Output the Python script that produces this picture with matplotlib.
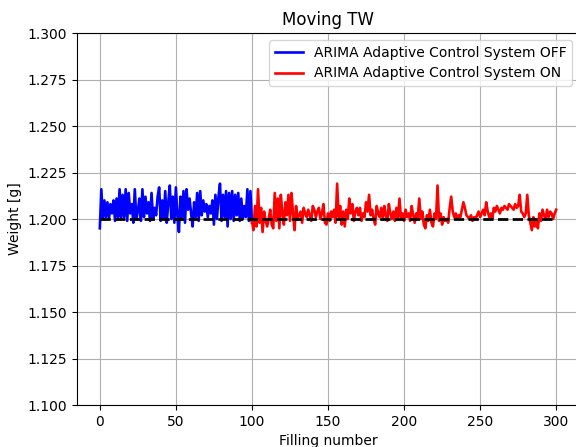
import numpy as np
import matplotlib
matplotlib.use("Agg")
import matplotlib.pyplot as plt

off_x = list(range(0, 101))
off_vals = [
    1.195, 1.216, 1.200, 1.210, 1.201, 1.209, 1.200, 1.208, 1.203, 1.210,
    1.199, 1.211, 1.201, 1.216, 1.200, 1.213, 1.201, 1.216, 1.199, 1.214,
    1.203, 1.208, 1.198, 1.216, 1.200, 1.204, 1.211, 1.199, 1.216, 1.201,
    1.212, 1.203, 1.209, 1.199, 1.214, 1.200, 1.206, 1.202, 1.212, 1.217,
    1.199, 1.210, 1.200, 1.215, 1.198, 1.209, 1.218, 1.200, 1.212, 1.198,
    1.217, 1.202, 1.193, 1.212, 1.200, 1.215, 1.198, 1.216, 1.205, 1.211,
    1.203, 1.196, 1.209, 1.201, 1.214, 1.199, 1.215, 1.202, 1.210, 1.204,
    1.208, 1.201, 1.207, 1.203, 1.210, 1.197, 1.213, 1.200, 1.212, 1.219,
    1.199, 1.213, 1.201, 1.215, 1.196, 1.214, 1.200, 1.215, 1.199, 1.213,
    1.202, 1.214, 1.199, 1.211, 1.200, 1.207, 1.201, 1.216, 1.199, 1.215,
    1.198,
]

on_x = list(range(100, 301))
on_vals = [
    1.199, 1.194, 1.207, 1.196, 1.216, 1.198, 1.206, 1.193, 1.204, 1.199,
    1.196, 1.200, 1.205, 1.197, 1.195, 1.214, 1.199, 1.211, 1.195, 1.213,
    1.203, 1.197, 1.209, 1.202, 1.213, 1.199, 1.214, 1.203, 1.194, 1.207,
    1.200, 1.202, 1.204, 1.198, 1.206, 1.203, 1.201, 1.205, 1.202, 1.199,
    1.207, 1.205, 1.201, 1.204, 1.206, 1.200, 1.203, 1.208, 1.198, 1.197,
    1.203, 1.199, 1.204, 1.201, 1.205, 1.198, 1.219, 1.201, 1.207, 1.197,
    1.204, 1.196, 1.205, 1.200, 1.211, 1.203, 1.208, 1.199, 1.204, 1.206,
    1.202, 1.206, 1.199, 1.203, 1.201, 1.209, 1.204, 1.213, 1.202, 1.205,
    1.200, 1.197, 1.207, 1.203, 1.201, 1.206, 1.200, 1.207, 1.202, 1.199,
    1.208, 1.203, 1.200, 1.204, 1.199, 1.206, 1.201, 1.211, 1.200, 1.203,
    1.199, 1.205, 1.201, 1.203, 1.199, 1.207, 1.202, 1.198, 1.203, 1.201,
    1.211, 1.200, 1.204, 1.197, 1.195, 1.202, 1.199, 1.205, 1.198, 1.196,
    1.203, 1.200, 1.218, 1.199, 1.203, 1.197, 1.201, 1.199, 1.200, 1.198,
    1.206, 1.212, 1.204, 1.201, 1.203, 1.200, 1.202, 1.201, 1.205, 1.209,
    1.206, 1.202, 1.201, 1.200, 1.202, 1.199, 1.201, 1.200, 1.202, 1.204,
    1.201, 1.203, 1.205, 1.202, 1.209, 1.204, 1.201, 1.203, 1.200, 1.206,
    1.204, 1.207, 1.205, 1.203, 1.206, 1.205, 1.207, 1.206, 1.205, 1.208,
    1.207, 1.206, 1.205, 1.208, 1.206, 1.207, 1.213, 1.204, 1.203, 1.201,
    1.203, 1.213, 1.202, 1.198, 1.194, 1.201, 1.196, 1.199, 1.195, 1.203,
    1.199, 1.205, 1.202, 1.200, 1.205, 1.201, 1.204, 1.203, 1.200, 1.203,
    1.205,
]

target = 1.2
target_x = [0, 300]

fig = plt.figure(figsize=(5.76, 4.47), dpi=100)
ax = fig.add_axes([77/576, 1 - 405/447, 502/576, 372/447])
ax.plot(off_x, off_vals, color="blue", lw=1.9, label="ARIMA Adaptive Control System OFF")
ax.plot(on_x, on_vals, color="red", lw=1.9, label="ARIMA Adaptive Control System ON")
ax.plot(target_x, [target, target], color="black", ls="--", lw=2)
ax.set_ylim(1.1, 1.3)
ax.set_yticks(np.arange(1.1, 1.3001, 0.025))
ax.yaxis.set_major_formatter(matplotlib.ticker.FormatStrFormatter("%.3f"))
ax.set_xticks([0, 50, 100, 150, 200, 250, 300])
ax.grid(True)
ax.set_title("Moving TW")
ax.set_xlabel("Filling number")
ax.set_ylabel("Weight [g]")
ax.legend(loc="upper right")
fig.savefig("out.png", dpi=100)
